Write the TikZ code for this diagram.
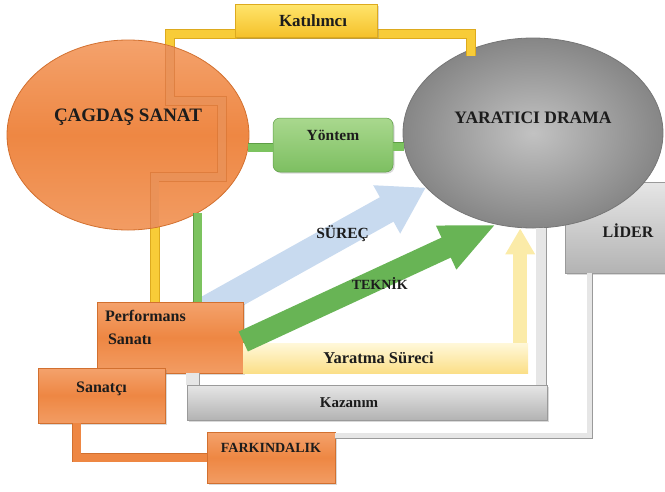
\documentclass[tikz,border=0pt]{standalone}
\usepackage{fontspec}
\setmainfont{Liberation Serif}
\usetikzlibrary{arrows.meta,shapes.geometric,shadows}
\pgfdeclarelayer{background}
\pgfsetlayers{background,main}
\definecolor{orTop}{HTML}{F4A26C}
\definecolor{orMid}{HTML}{EE8743}
\definecolor{orBot}{HTML}{F29C63}
\definecolor{orEdge}{HTML}{D2702F}
\definecolor{grIn}{HTML}{C2C2C2}
\definecolor{grOut}{HTML}{868686}
\definecolor{grEdge}{HTML}{767676}
\definecolor{lgTop}{HTML}{E6E6E6}
\definecolor{lgBot}{HTML}{B3B3B3}
\definecolor{lgEdge}{HTML}{9A9A9A}
\definecolor{gnTop}{HTML}{A9D88E}
\definecolor{gnBot}{HTML}{7DBF61}
\definecolor{gnEdge}{HTML}{5E9E46}
\definecolor{gnLine}{HTML}{7CC35F}
\definecolor{gnArrow}{HTML}{68B455}
\definecolor{ylTop}{HTML}{FFE56C}
\definecolor{ylBot}{HTML}{F5C12A}
\definecolor{ylLine}{HTML}{F8CC38}
\definecolor{ylEdge}{HTML}{DDAA1E}
\definecolor{crTop}{HTML}{FFF8DA}
\definecolor{crBot}{HTML}{FBDF88}
\definecolor{crArrow}{HTML}{FBEBA8}
\definecolor{blArrow}{HTML}{C8DAEF}
\definecolor{txt}{HTML}{1C1C1C}

\begin{document}
\begin{tikzpicture}[x=1pt, y=-1pt,
  lbl/.style={font=\bfseries, text=txt, inner sep=0pt},
  fs/.style={font=\fontsize{#1}{#1}\selectfont\bfseries},
  raised/.style={text height=12pt, text depth=#1},
  shd/.style={drop shadow={shadow xshift=1.5pt, shadow yshift=-1.5pt, opacity=.3}},
  obox/.style={lbl, shd, draw=orEdge, line width=.5pt, top color=orTop, bottom color=orBot, middle color=orMid},
  gbox/.style={lbl, shd, draw=lgEdge, line width=.5pt, top color=lgTop, bottom color=lgBot},
  circ/.style={lbl, ellipse, line width=.8pt},
  yline/.style={draw=ylEdge, double=ylLine, double distance=8pt, line width=.8pt},
  ghost/.style={draw=orEdge, double=orTop, double distance=8pt, line width=.6pt, opacity=.55},
  gline/.style={draw=gnEdge, double=gnLine, double distance=8pt, line width=.6pt},
  kline/.style={draw=lgEdge, double=lgTop, double distance=10pt, line width=.7pt},
  kstub/.style={draw=lgEdge, double=lgTop, double distance=13pt, line width=.6pt},
  lline/.style={draw=lgEdge, double=lgTop, double distance=5pt, line width=.7pt},
  oline/.style={draw=orEdge, double=orMid, double distance=8pt, line width=.7pt},
  garrow/.style={draw=gnArrow, line width=22pt, -{Triangle[length=55pt, width=44pt]}},
  barrow/.style={draw=blArrow, line width=28pt, -{Triangle[length=45pt, width=52pt]}},
  yarrow/.style={draw=crArrow, line width=14pt, -{Triangle[length=26pt, width=28pt]}}
]
  \useasboundingbox (0,0) rectangle (665,491);

  \node[gbox, fs=16, text height=19.6pt, text depth=0pt, minimum width=126pt, minimum height=91pt] (lid) at (628,227.5) {LİDER};
  \node[circ, fs=17.5, raised=30.4pt, draw=grEdge, inner color=grIn, outer color=grOut, minimum width=260pt, minimum height=190pt] (drama) at (533,133) {YARATICI DRAMA};

  \node[obox, fs=16, raised=22pt, minimum width=146pt, minimum height=71pt] (perf) at (170,337.5)
    {\fontsize{16}{23}\selectfont\begin{tabular}{@{}p{130pt}@{}}Performans\\\hspace*{3pt}Sanatı\end{tabular}};
  \node[obox, fs=16, raised=18.4pt, minimum width=127pt, minimum height=55pt] (san) at (101.5,395.5) {Sanatçı};
  \node[obox, fs=14, raised=22.8pt, minimum width=128pt, minimum height=51pt] (fark) at (271,457.5) {FARKINDALIK};
  \node[gbox, fs=15, minimum width=360pt, minimum height=35pt] (kaz) at (367,402.5) {Kazanım\hspace*{36pt}};
  \node[lbl, fs=16.5, top color=crTop, bottom color=crBot, minimum width=285pt, minimum height=30pt] (yar) at (385.5,358) {Yaratma Süreci\hspace*{14pt}};

  \coordinate (yv) at ([xshift=58pt]perf.north west);
  \coordinate (kR) at (471,34);
  \draw[yline] (yv) |- (222,177) |- (170,101) |- (kR) -- (kR |- drama.135);

  \node[circ, fs=19, raised=39.4pt, draw=orEdge, top color=orTop, bottom color=orBot, middle color=orMid, minimum width=242pt, minimum height=190pt] (ca) at (128,135) {ÇAGDAŞ SANAT};
  \begin{scope}
    \clip (ca.center) ellipse [x radius=120.5pt, y radius=94.5pt];
    \draw[ghost] (yv) |- (222,177) |- (170,101) |- (kR);
  \end{scope}
  \node[lbl, fs=17, shd, draw=ylEdge, line width=.5pt, top color=ylTop, bottom color=ylBot, minimum width=142pt, minimum height=33pt] (kat) at (306,20.5) {\hspace*{14pt}Katılımcı};
  \node[lbl, fs=15.5, raised=21.8pt, shd, draw=gnEdge, line width=.5pt, rounded corners=7pt, top color=gnTop, bottom color=gnBot, minimum width=120pt, minimum height=54pt] (yon) at (333,145) {Yöntem};

  \draw[gline] (ca.354) -- (ca.354 -| yon.west);
  \draw[gline] (yon.east |- drama.186) -- (drama.186);
  \coordinate (gv) at ([xshift=101pt]perf.north west);
  \draw[gline] (gv) -- (gv |- ca.-48);

  \coordinate (kv) at ([xshift=-6pt]kaz.north east);
  \draw[kline] (kv) -- (kv |- drama.south);
  \coordinate (ks) at ([xshift=6pt]kaz.north west);
  \draw[kstub] (ks) -- (ks |- perf.south);
  \coordinate (yu) at ([xshift=-8pt]yar.north east);
  \draw[yarrow] (yu) -- (yu |- drama.south);
  \coordinate (lv) at ([xshift=25pt]lid.south west);
  \draw[lline] (lv) |- ([yshift=-4pt]fark.north east);
  \coordinate (sv) at ([xshift=39pt]san.south west);
  \draw[oline] (sv) |- (fark.west);

  \draw[garrow] ([yshift=-4pt]perf.east) -- node[lbl, fs=14, pos=.54, yshift=-5pt] {TEKNİK} (drama.248);

  \begin{pgfonlayer}{background}
    \draw[barrow] ([xshift=-13pt]perf.center) -- node[lbl, fs=15.5, pos=.69] {SÜREÇ} (drama.207);
  \end{pgfonlayer}
\end{tikzpicture}
\end{document}
